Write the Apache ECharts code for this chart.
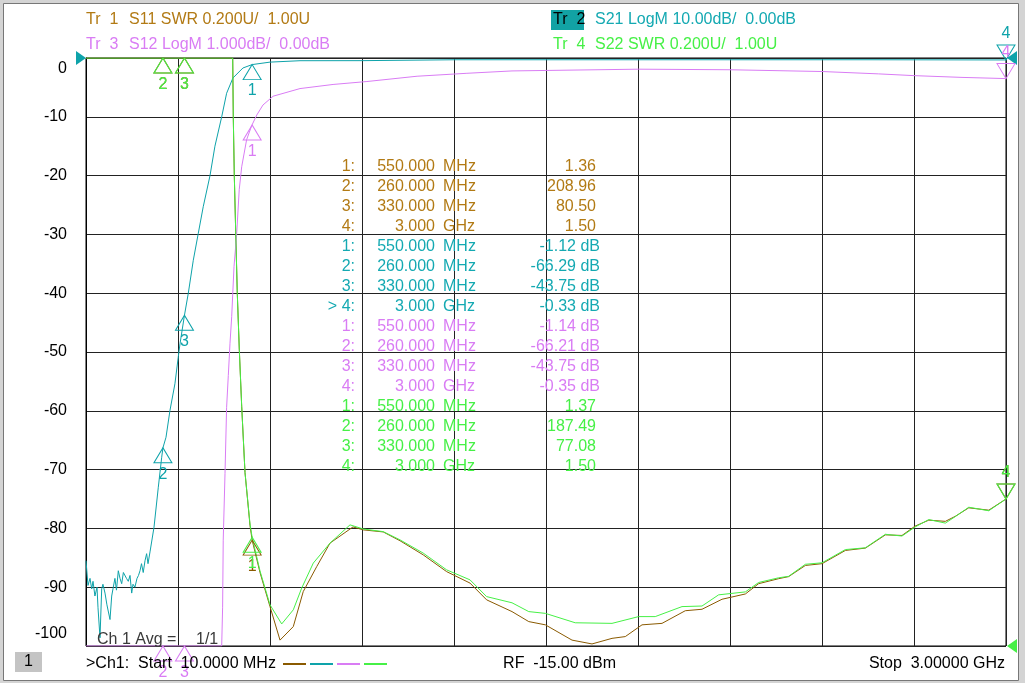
<!DOCTYPE html>
<html>
<head>
<meta charset="utf-8">
<script src="https://cdn.jsdelivr.net/npm/echarts@6/dist/echarts.min.js"></script>
<style>
  html, body { margin: 0; padding: 0; background: #d4d4d4; }
  #main { width: 1025px; height: 683px; }
</style>
</head>
<body>
<div id="main"></div>
<script>
// trace data [MHz, value] (S11/S22 in SWR, S21/S12 in dB, clipped at the screen edge)
var s11 = [[10,3],[486.8,3],[488.7,2.8],[492,2.6],[496.5,2.41],[501.7,2.2],[508.2,2.01],[516,1.815],[526.8,1.59],[543,1.41],[550,1.36],[575.5,1.25],[608,1.134],[640.5,1.02],[683.7,1.066],[716,1.185],[759.8,1.27],[803,1.35],[877.8,1.405],[911,1.395],[976,1.388],[1030.5,1.358],[1106,1.31],[1182,1.253],[1258,1.214],[1312,1.157],[1394.5,1.117],[1449,1.083],[1503,1.072],[1589.5,1.02],[1654.5,1.007],[1719.5,1.026],[1762.7,1.032],[1817,1.072],[1882,1.077],[1957.7,1.12],[2012,1.125],[2077,1.159],[2153,1.177],[2196,1.212],[2261,1.229],[2293.5,1.236],[2348,1.274],[2402,1.28],[2478,1.325],[2543,1.333],[2608,1.378],[2662,1.376],[2705,1.408],[2749,1.428],[2803,1.424],[2835,1.441],[2879,1.47],[2944,1.462],[3000,1.5]];
var s21 = [[10,-85.5],[16.5,-89.7],[23,-88.5],[28.5,-90.3],[32.8,-89],[39,-91.5],[45.8,-90],[49,-93.5],[55.5,-98.6],[61,-90.3],[65,-89.5],[71.8,-91],[78,-93],[88,-95.5],[93.5,-91.5],[98.7,-90],[104,-88.5],[109,-90.5],[115,-87.2],[120.5,-88.5],[126,-89.4],[131.5,-87.5],[136.8,-87.8],[141.6,-88.5],[147.5,-89],[153,-88],[158.5,-91],[162.8,-89.5],[169,-90],[175.8,-88.5],[180.6,-88],[185.5,-87.2],[190.4,-86],[196,-87.5],[201.8,-85.5],[207,-84.3],[211.5,-86],[218,-84],[231,-79.8],[245,-73],[256,-67.9],[260,-66.3],[270,-64.5],[283,-59.9],[299,-55.4],[310,-50.8],[315.5,-48.6],[330,-43.75],[342.5,-40],[358.7,-34.4],[375,-29.8],[391,-25.3],[413,-20],[429,-15],[451,-10],[467,-6],[487.5,-3.4],[520,-1.7],[550,-1.12],[608,-0.7],[705.5,-0.46],[907,-0.45],[1209,-0.3],[2558,-0.3],[3000,-0.33]];
var s12 = [[10,-10],[451,-10],[454,-9.34],[456,-8.2],[461.8,-7.07],[467,-5.94],[472.5,-5.4],[478,-4.85],[483.5,-4.4],[491,-3.55],[499.8,-2.98],[508,-2.24],[516,-1.85],[532,-1.39],[548.5,-1.15],[565,-0.97],[585,-0.8],[618,-0.65],[705.5,-0.52],[813,-0.45],[923,-0.4],[1086,-0.31],[1248,-0.26],[1394.5,-0.22],[1806,-0.19],[2103,-0.2],[2402,-0.23],[2586,-0.27],[2701,-0.3],[2857,-0.33],[3000,-0.35]];
var s22 = [[10,3],[486.8,3],[488.7,2.8],[492,2.6],[496.5,2.41],[501.7,2.2],[508.2,2.01],[516,1.815],[526.8,1.59],[543,1.415],[550,1.37],[575.5,1.255],[608,1.14],[646,1.075],[683.7,1.123],[711,1.197],[748.7,1.282],[803,1.35],[868,1.412],[911,1.398],[976,1.389],[1030.5,1.361],[1106,1.316],[1182,1.259],[1258,1.225],[1312,1.168],[1394.5,1.147],[1449,1.117],[1503,1.111],[1600,1.079],[1719.5,1.077],[1806,1.1],[1860,1.1],[1947,1.134],[2012,1.136],[2066,1.174],[2153,1.184],[2196,1.216],[2261,1.232],[2293.5,1.237],[2348,1.278],[2402,1.283],[2478,1.328],[2543,1.334],[2608,1.38],[2662,1.374],[2705,1.405],[2749,1.43],[2803,1.418],[2835,1.44],[2879,1.472],[2944,1.46],[3000,1.5]];

// marker readouts
var markerMHz = [550, 260, 330, 3000];
var markerFreqText = ['550.000', '260.000', '330.000', '3.000'];
var markerUnit = ['MHz', 'MHz', 'MHz', 'GHz'];
var s11Readout = [1.36, 208.96, 80.50, 1.50];
var s21Readout = [-1.12, -66.29, -43.75, -0.33];
var s12Readout = [-1.14, -66.21, -43.75, -0.35];
var s22Readout = [1.37, 187.49, 77.08, 1.50];

var FONT = '"Liberation Sans", Arial, sans-serif';
var BROWN = '#8a5a00', BROWN_TXT = '#b27a14';
var TEAL = '#0ea3aa', TEAL_TXT = '#14a9b2';
var PINK = '#d97cf4';
var GREEN = '#46f046';

function markers(vals, lo, hi) {
  return vals.map(function (v, i) {
    var last = i === 3;
    return {
      name: String(i + 1),
      coord: [markerMHz[i], Math.min(hi, Math.max(lo, v))],
      symbolRotate: last ? 180 : 0,
      symbolOffset: [0, last ? '-50%' : '50%'],
      label: { position: last ? 'top' : 'bottom' }
    };
  });
}

function markPoint(color, data) {
  return {
    symbol: 'triangle',
    symbolSize: [18, 15],
    silent: true,
    itemStyle: { color: 'rgba(0,0,0,0)', borderColor: color, borderWidth: 1 },
    label: { show: true, formatter: '{b}', color: color, fontSize: 16, fontFamily: FONT, distance: 3 },
    data: data
  };
}

// filled arrow showing where a trace's reference value sits
function refArrow(coord, right, color) {
  return {
    name: '',
    coord: coord,
    symbolSize: [14, 10],
    symbolRotate: right ? 90 : -90,
    symbolOffset: [right ? 6 : -5, 0],
    itemStyle: { color: color, borderWidth: 0 },
    label: { show: false }
  };
}

function line(name, data, yIdx, color, mp) {
  return {
    name: name, type: 'line', data: data,
    xAxisIndex: 0, yAxisIndex: yIdx,
    showSymbol: false, animation: false,
    lineStyle: { color: color, width: 1 },
    markPoint: mp
  };
}

var graphic = [];
function txt(x, y, s, color, align) {
  graphic.push({
    type: 'text', x: x, y: y, z: 10, silent: true,
    style: { text: s, fill: color, font: '16px ' + FONT, align: align || 'left', verticalAlign: 'middle' }
  });
}

// window panel
graphic.push({ type: 'rect', z: -10, shape: { x: 3.5, y: 3.5, width: 1015, height: 677 },
  style: { fill: '#fff', stroke: '#777', lineWidth: 1 } });

// trace headers
txt(86, 20, 'Tr  1', BROWN_TXT); txt(129, 20, 'S11 SWR 0.200U/  1.00U', BROWN_TXT);
txt(86, 45, 'Tr  3', PINK); txt(129, 45, 'S12 LogM 1.000dB/  0.00dB', PINK);
graphic.push({ type: 'rect', z: 9, shape: { x: 551, y: 10, width: 33, height: 20 }, style: { fill: '#12a2a4' } });
txt(553, 20, 'Tr  2', '#000'); txt(595, 20, 'S21 LogM 10.00dB/  0.00dB', TEAL_TXT);
txt(553, 45, 'Tr  4', GREEN); txt(595, 45, 'S22 SWR 0.200U/  1.00U', GREEN);

// marker table
var tableTraces = [
  { vals: s11Readout, color: BROWN_TXT, db: false },
  { vals: s21Readout, color: TEAL_TXT, db: true },
  { vals: s12Readout, color: PINK, db: true },
  { vals: s22Readout, color: GREEN, db: false }
];
tableTraces.forEach(function (t, ti) {
  t.vals.forEach(function (v, i) {
    var r = ti * 4 + i;
    var y = 167 + 20 * r;
    txt(355, y, (r === 7 ? '> ' : '') + (i + 1) + ':', t.color, 'right');
    txt(435, y, markerFreqText[i], t.color, 'right');
    txt(443, y, markerUnit[i], t.color);
    if (t.db) txt(600, y, v.toFixed(2) + ' dB', t.color, 'right');
    else txt(596, y, v.toFixed(2), t.color, 'right');
  });
});

// footer
txt(97, 640, 'Ch 1 Avg =', '#3a3a3a'); txt(196, 640, '1/1', '#3a3a3a');
graphic.push({ type: 'rect', z: 9, shape: { x: 15, y: 652, width: 27, height: 20 }, style: { fill: '#c4c4c4' } });
txt(28.5, 662, '1', '#000', 'center');
txt(86, 664, '>Ch1:  Start  10.0000 MHz', '#000');
[BROWN, TEAL, PINK, GREEN].forEach(function (c, i) {
  graphic.push({ type: 'line', z: 10, shape: { x1: 283 + i * 27, y1: 664, x2: 306 + i * 27, y2: 664 },
    style: { stroke: c, lineWidth: 2 } });
});
txt(616, 664, 'RF  -15.00 dBm', '#000', 'right');
txt(1005, 664, 'Stop  3.00000 GHz', '#000', 'right');

var labelRich = {
  n: { color: '#000', fontSize: 16, fontFamily: FONT },
  t: { color: '#000', fontSize: 16, fontFamily: FONT, padding: [3, 0, 0, 0] },
  b: { color: '#000', fontSize: 16, fontFamily: FONT, padding: [0, 0, 4, 0] }
};

var chart = echarts.init(document.getElementById('main'));
chart.setOption({
  animation: false,
  backgroundColor: '#d4d4d4',
  grid: { left: 86, right: 19, top: 58, bottom: 37, show: true, borderColor: '#000', borderWidth: 1 },
  xAxis: [
    { type: 'value', min: 10, max: 3000, show: false },
    { type: 'value', min: 0, max: 10, interval: 1,
      axisLine: { show: false }, axisTick: { show: false }, axisLabel: { show: false },
      splitLine: { show: true, lineStyle: { color: '#222', width: 1 } } }
  ],
  yAxis: [
    { type: 'value', min: -100, max: 0, interval: 10,
      axisLine: { show: true, lineStyle: { color: '#000' } }, axisTick: { show: false },
      axisLabel: { color: '#000', fontSize: 16, fontFamily: FONT, margin: 19,
        verticalAlignMinLabel: 'bottom', verticalAlignMaxLabel: 'top',
        formatter: function (v) {
          if (v === 0) return '{t|0}';
          if (v === -100) return '{b|-100}';
          return '{n|' + v + '}';
        },
        rich: labelRich },
      splitLine: { show: true, lineStyle: { color: '#222', width: 1 } } },
    { type: 'value', min: -10, max: 0, show: false },
    { type: 'value', min: 1, max: 3, show: false }
  ],
  series: [
    line('S11', s11, 2, BROWN, markPoint(BROWN, markers(s11Readout, 1, 3))),
    line('S21', s21, 0, TEAL, markPoint(TEAL, markers(s21Readout, -100, 0).concat([
      refArrow([10, 0], false, TEAL), refArrow([3000, 0], true, TEAL)]))),
    line('S12', s12, 1, PINK, markPoint(PINK, markers(s12Readout, -10, 0))),
    line('S22', s22, 2, GREEN, markPoint(GREEN, markers(s22Readout, 1, 3).concat([
      refArrow([3000, 1], true, GREEN)])))
  ],
  graphic: graphic
});
</script>
</body>
</html>
